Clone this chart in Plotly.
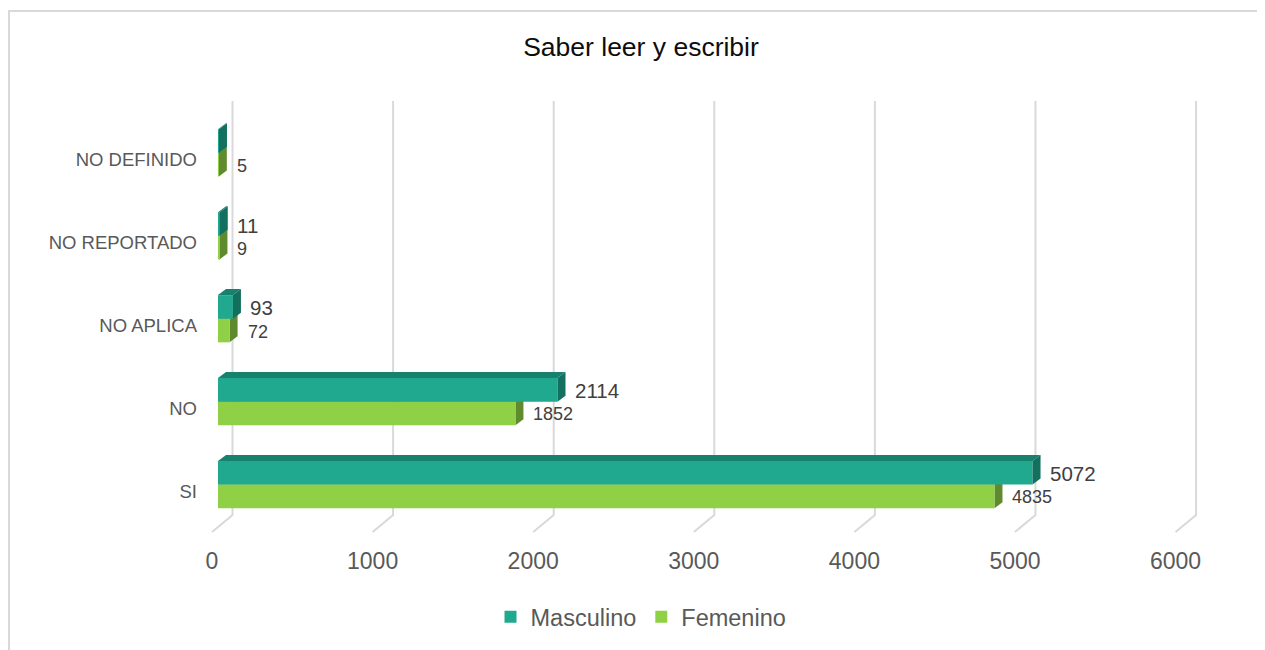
import plotly.graph_objects as go

# ---------------- data ----------------
categories = ["SI", "NO", "NO APLICA", "NO REPORTADO", "NO DEFINIDO"]
masculino = [5072, 2114, 93, 11, 6]
femenino = [4835, 1852, 72, 9, 5]
masc_labels = ["5072", "2114", "93", "11", ""]
fem_labels = ["4835", "1852", "72", "9", "5"]
x_ticks = [0, 1000, 2000, 3000, 4000, 5000, 6000]
series_names = ["Masculino", "Femenino"]
title_text = "Saber leer y escribir"

# ---------------- styling ----------------
W, H = 1265, 650
OFF = 8  # page margin of the browser
L, T = 205 - OFF, 100 - OFF
pw, ph = 1005, 435
R, B = W - L - pw, H - T - ph
XR = [-81, 6177]
YR = [-0.609, 4.639]
BARGAP = 0.43

MASC_FRONT, MASC_TOP, MASC_SIDE = "#20A98F", "#18816D", "#13705E"
FEM_FRONT, FEM_TOP, FEM_SIDE = "#8FD046", "#6E9E35", "#5F8A2D"
GRID = "#D9D9D9"
FONT = "Liberation Sans, Arial, sans-serif"

ppx = pw / (XR[1] - XR[0])
ppy = ph / (YR[1] - YR[0])


def ux(px):
    return px / ppx


def uy(px):
    return px / ppy


DX, DY = ux(8), uy(6)
bw = (1 - BARGAP) / 2

fig = go.Figure()
fig.add_trace(go.Bar(y=categories, x=femenino, name=series_names[1], orientation="h",
                     marker=dict(color=FEM_FRONT, line=dict(width=0)), legendrank=2,
                     hoverinfo="x+y"))
fig.add_trace(go.Bar(y=categories, x=masculino, name=series_names[0], orientation="h",
                     marker=dict(color=MASC_FRONT, line=dict(width=0)), legendrank=1,
                     hoverinfo="x+y"))

shapes = []
# gridlines with a 3D floor
gb, gf = ux(14.5), ux(-6)
y_top = YR[1] - uy(1)
y_fb = YR[0] + uy(20)
y_ff = YR[0] + uy(3)
for k in x_ticks:
    shapes.append(dict(type="path", xref="x", yref="y", layer="below",
                       path=f"M {k+gb},{y_top} L {k+gb},{y_fb} L {k+gf},{y_ff}",
                       line=dict(color=GRID, width=2)))


def faces(val, yb, yt, top_col, side_col, layer):
    out = []
    out.append(dict(type="path", xref="x", yref="y", layer=layer,
                    path=f"M 0,{yt} L {DX},{yt+DY} L {val+DX},{yt+DY} L {val},{yt} Z",
                    fillcolor=top_col, line=dict(width=0)))
    out.append(dict(type="path", xref="x", yref="y", layer=layer,
                    path=f"M {val},{yt} L {val+DX},{yt+DY} L {val+DX},{yb+DY} L {val},{yb} Z",
                    fillcolor=side_col, line=dict(width=0)))
    return out


for i, v in enumerate(femenino):
    shapes += faces(v, i - bw, i, FEM_TOP, FEM_SIDE, "below")
for i, v in enumerate(masculino):
    shapes += faces(v, i, i + bw, MASC_TOP, MASC_SIDE, "above")

# outer border
shapes.append(dict(type="rect", xref="paper", yref="paper",
                   x0=(1 - L) / pw, x1=(W + 10 - L) / pw,
                   y0=(H - B - (H + 10)) / ph, y1=(H - B - 3) / ph,
                   line=dict(color=GRID, width=2), fillcolor="rgba(0,0,0,0)"))

annotations = []
for i, (v, t) in enumerate(zip(masculino, masc_labels)):
    if t:
        annotations.append(dict(x=v, y=i + bw / 2, xref="x", yref="y", text=t,
                                showarrow=False, xanchor="left", yanchor="middle",
                                xshift=15, yshift=-1,
                                font=dict(family=FONT, size=20.5, color="#404040")))
for i, (v, t) in enumerate(zip(femenino, fem_labels)):
    if t:
        annotations.append(dict(x=v, y=i - bw / 2, xref="x", yref="y", text=t,
                                showarrow=False, xanchor="left", yanchor="middle",
                                xshift=16, yshift=-1,
                                font=dict(family=FONT, size=18, color="#404040")))

fig.update_layout(
    width=W, height=H,
    margin=dict(l=L, r=R, t=T, b=B),
    paper_bgcolor="white", plot_bgcolor="white",
    barmode="group", bargap=BARGAP, bargroupgap=0,
    font=dict(family=FONT, color="#595959"),
    title=dict(text=title_text, x=(641 - OFF) / W, xref="container", xanchor="center",
               y=1 - (47 - OFF) / H, yref="container", yanchor="middle",
               font=dict(family=FONT, size=26.5, color="#0D0D0D")),
    xaxis=dict(range=XR, tickvals=x_ticks, showgrid=False, zeroline=False,
               showline=False, ticks="", ticklabelstandoff=10, ticklabelshift=-6,
               tickfont=dict(family=FONT, size=23, color="#595959")),
    yaxis=dict(type="category", categoryorder="array", categoryarray=categories,
               range=YR, showgrid=False, zeroline=False, showline=False, ticks="",
               ticklabelstandoff=7, ticklabelshift=7,
               tickfont=dict(family=FONT, size=18.5, color="#595959")),
    legend=dict(orientation="h", xref="container", yref="container",
                x=(641 - OFF) / W, xanchor="center", y=1 - (617 - OFF) / H, yanchor="middle",
                font=dict(family=FONT, size=23.5, color="#595959")),
    shapes=shapes,
    annotations=annotations,
    showlegend=True,
)

fig.write_html("out.html")
